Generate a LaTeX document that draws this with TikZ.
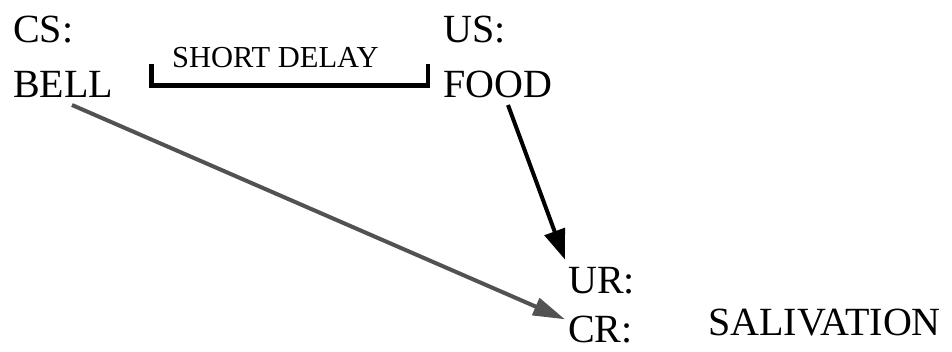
\documentclass[tikz,border=0pt]{standalone}
\usepackage{fontspec}
\setmainfont{Liberation Serif}
\usetikzlibrary{arrows.meta,calc}
\begin{document}
\begin{tikzpicture}[x=1pt,y=1pt,
  lbl/.style={font=\fontsize{40}{48}\selectfont, inner sep=0pt, anchor=base west},
  small/.style={font=\fontsize{30.5}{36}\selectfont, inner sep=0pt, anchor=base west},
  usarrow/.style={line width=4pt, -{Triangle[length=30pt,width=21pt]}},
  csarrow/.style={line width=4pt, black!68, -{Triangle[length=32pt,width=18pt]}},
  bracket/.style={line width=4.5pt}]
  \useasboundingbox[fill=white] (0,0) rectangle (952,-351);

  % stimuli
  \node[lbl] (cs)   at (13,-42)  {CS:};
  \node[lbl] (bell) at (13,-97)  {BELL};
  \node[lbl] (us)   at (443,-42) {US:};
  \node[lbl] (food) at (443,-97) {FOOD};

  % responses
  \node[lbl] (ur)   at (568,-293) {UR:};
  \node[lbl] (cr)   at (568,-342) {CR:};
  \node[lbl] (sal)  at (708,-335) {SALIVATION};

  % delay between CS and US
  \node[small] (delay) at (172,-67) {SHORT DELAY};
  \draw[bracket] (151.5,-64) -- (151.5,-85.5) -- (428,-85.5) -- (428,-64);

  % US -> UR
  \draw[usarrow] ($(food.base west)+(65,-8)$) -- ($(ur.north west)+(-3,7)$);
  % CS -> CR
  \draw[csarrow] ($(bell.base west)+(59,-8)$) -- ($(cr.north west)+(-3,-4)$);
\end{tikzpicture}
\end{document}
